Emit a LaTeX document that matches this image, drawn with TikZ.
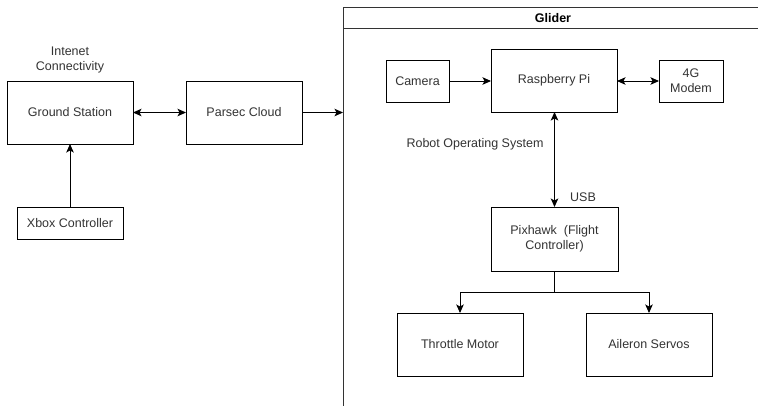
\documentclass[tikz,border=0pt]{standalone}
\usepackage{fontspec}
\setmainfont{Liberation Sans}
\usetikzlibrary{arrows.meta}
\definecolor{txt}{HTML}{333333}
\begin{document}
\begin{tikzpicture}[x=1pt,y=-1pt,
  font=\fontsize{12.5}{15}\selectfont,
  tip/.tip={Stealth[length=8.5pt,width=7.5pt,inset=2pt]},
  blk/.style={draw=black,line width=0.9pt,inner sep=0pt,outer sep=0pt,align=center,text=txt},
  lbl/.style={inner sep=0pt,align=center,text=txt},
  conn/.style={draw=black,line width=0.9pt,-tip},
  bconn/.style={draw=black,line width=0.9pt,tip-tip}]
\useasboundingbox (0,0) rectangle (758,405);
\fill[white] (0,0) rectangle (758,405);
% Glider container
\begin{scope}
\clip (0,0) rectangle (758,405);
\draw[line width=0.9pt,draw=black!80] (343,7) rectangle (763,412);
\draw[line width=0.9pt,draw=black!80] (343,28) -- (763,28);
\end{scope}
\node[lbl,text=black,font=\fontsize{12.5}{15}\selectfont\bfseries] (glider) at (553,18) {Glider};
\coordinate (gleft) at (343,112.5);
% left side
\node[blk,minimum width=126pt,minimum height=63pt] (gs) at (70,112.5) {Ground Station};
\node[blk,minimum width=116pt,minimum height=63pt] (pc) at (244,112.5) {Parsec Cloud};
\node[blk,minimum width=106pt,minimum height=32pt] (xb) at (70,223) {Xbox Controller};
\node[lbl] (inet) at (70,60) {Intenet\\Connectivity};
% glider content
\node[blk,minimum width=63pt,minimum height=42pt] (cam) at (417.5,81) {Camera};
\node[blk,minimum width=126pt,minimum height=63pt] (rpi) at (554,80.5) {Raspberry Pi};
\node[blk,minimum width=64pt,minimum height=42pt] (mod) at (691,81) {4G\\Modem};
\node[blk,minimum width=127pt,minimum height=64pt] (px) at (554.5,239) {Pixhawk~~(Flight\\Controller)};
\node[blk,minimum width=126pt,minimum height=63pt] (thr) at (460,344.5) {Throttle Motor};
\node[blk,minimum width=126pt,minimum height=63pt] (ail) at (649,344.5) {Aileron Servos};
\node[lbl] (ros) at (475,144) {Robot Operating System};
\node[lbl] (usb) at (583,197) {USB};
% connectors
\draw[bconn] (gs.east) -- (pc.west);
\draw[conn] (pc.east) -- (gleft);
\draw[conn] (xb.north) -- (gs.south);
\draw[conn] (cam.east) -- (rpi.west |- cam.east);
\draw[bconn] (rpi.east |- mod.west) -- (mod.west);
\draw[bconn] (rpi.south -| px.north) -- (px.north);
\draw[conn] (px.south) -- ++(0,21) -| (thr.north);
\draw[conn] (px.south) -- ++(0,21) -| (ail.north);
\end{tikzpicture}
\end{document}
